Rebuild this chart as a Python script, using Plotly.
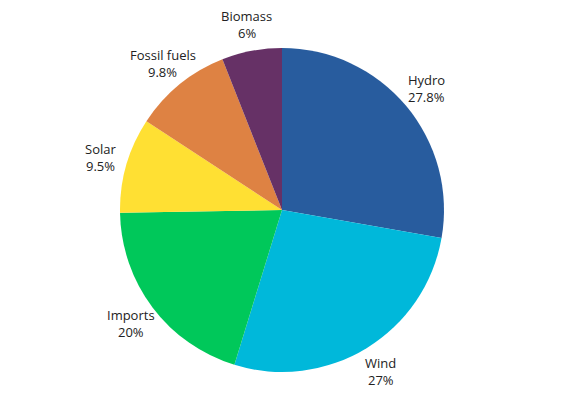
import math
import plotly.graph_objects as go

labels = ["Hydro", "Wind", "Imports", "Solar", "Fossil fuels", "Biomass"]
values = [27.8, 27, 20, 9.5, 9.8, 6]
colors = ["#285C9E", "#00B8DA", "#00C85A", "#FFE033", "#DE8243", "#663166"]

W, H = 564, 416
cx, cy, r = 282, 210, 162
label_r = 189
line_gap = 8.5

fig = go.Figure(go.Pie(
    labels=labels,
    values=values,
    textinfo="none",
    sort=False,
    direction="clockwise",
    rotation=0,
    marker=dict(colors=colors, line=dict(width=0)),
    showlegend=False,
    hoverinfo="label+percent",
    domain=dict(x=[(cx - r) / W, (cx + r) / W], y=[(H - cy - r) / H, (H - cy + r) / H]),
))

total = sum(values)
cum = 0.0
font = dict(family="Open Sans", size=13, color="#222222")
for lab, v in zip(labels, values):
    mid = (cum + v / 2) / total * 2 * math.pi
    cum += v
    px = cx + label_r * math.sin(mid)
    py = cy - label_r * math.cos(mid)
    for txt, dy in ((lab, -line_gap), (f"{v:g}%", line_gap)):
        fig.add_annotation(
            x=px / W, y=1 - (py + dy) / H, xref="paper", yref="paper",
            text=txt, showarrow=False, xanchor="center", yanchor="middle",
            font=font,
        )

fig.update_layout(
    width=W, height=H,
    margin=dict(l=0, r=0, t=0, b=0),
    paper_bgcolor="white",
    plot_bgcolor="white",
)
fig.write_html("out.html")
